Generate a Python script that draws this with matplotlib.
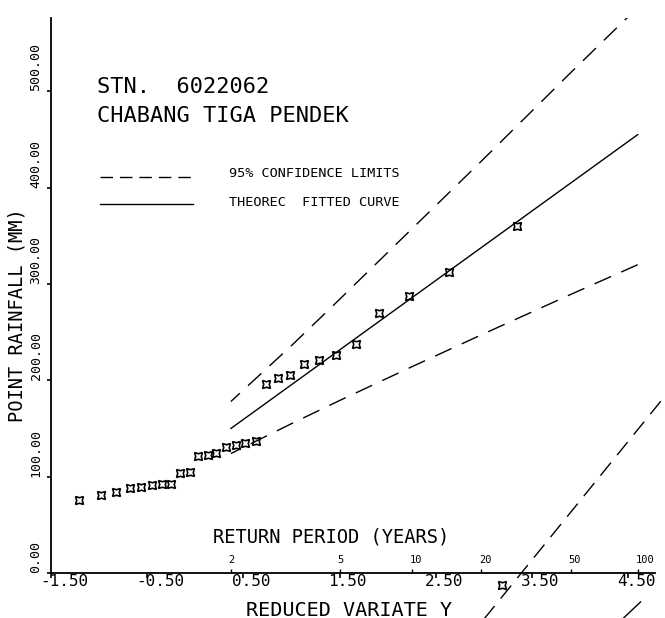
import matplotlib
matplotlib.use('Agg')
import matplotlib.pyplot as plt
from matplotlib.transforms import ScaledTranslation

plt.rcParams['font.family'] = 'DejaVu Sans Mono'

# annual maxima, ranked, against Gumbel reduced variate
reduced_y = [-1.21, -0.98, -0.82, -0.68, -0.56, -0.45, -0.35, -0.25, -0.16, -0.06,
             0.03, 0.13, 0.22, 0.32, 0.42, 0.52, 0.63, 0.74, 0.86, 0.99,
             1.13, 1.29, 1.46, 1.67, 1.91, 2.22, 2.64, 3.35]
rainfall = [76, 81, 84, 88, 89, 91, 92, 92, 104, 105,
            121, 122, 125, 131, 133, 135, 137, 196, 202, 205,
            217, 221, 226, 238, 270, 287, 312, 360]

# fitted curve and 95% limits
fit_y = [0.37, 4.60]
fit_p = [150, 455]
limit_y = [0.37, 1.00, 1.50, 2.25, 2.97, 3.90, 4.60]
upper_p = [178, 236, 284, 357, 427, 519, 587]
lower_p = [124, 155, 179, 214, 247, 289, 320]

# pen strokes running off below the axis
stray_y = [3.00, 4.87]
stray_p = [-48, 182]
stray2_y = [4.45, 4.63]
stray2_p = [-47, -30]
stray_pt_y = [3.19]
stray_pt_p = [-12]

x_ticks = [-1.5, -0.5, 0.5, 1.5, 2.5, 3.5, 4.5]
y_ticks = [0, 100, 200, 300, 400, 500]
period_labels = ['2', '5', '10', '20', '50', '100']
period_y = [0.367, 1.500, 2.250, 2.970, 3.902, 4.600]

fig = plt.figure(figsize=(6.65, 6.18), dpi=100)
ax = fig.add_axes([0.0767, 0.0728, 0.9083, 0.898])
ax.set_xlim(-1.5, 4.78)
ax.set_ylim(0, 576)
for s in ['top', 'right']:
    ax.spines[s].set_visible(False)
for s in ['left', 'bottom']:
    ax.spines[s].set_linewidth(1.3)

# limits drawn from the far end so the dash pattern starts there
dash = (13, 8)
ax.plot(limit_y[::-1], upper_p[::-1], color='black', lw=1.0, dashes=dash)
ax.plot(limit_y[::-1], lower_p[::-1], color='black', lw=1.0, dashes=dash)
ax.plot(fit_y, fit_p, color='black', lw=1.0)
ax.plot(reduced_y, rainfall, ls='none', marker=(4, 1, 45), ms=8,
        mfc='none', mec='black', mew=1.2)

ax.plot(stray_y, stray_p, color='black', lw=1.0, dashes=(12, 7), clip_on=False)
ax.plot(stray2_y, stray2_p, color='black', lw=1.0, clip_on=False)
ax.plot(stray_pt_y, stray_pt_p, ls='none', marker=(4, 1, 45), ms=8,
        mfc='none', mec='black', mew=1.2, clip_on=False)

# axis ticks
ax.set_yticks(y_ticks, ['%.2f' % v for v in y_ticks], rotation=90,
              va='bottom', ha='center', fontsize=9.5)
ax.tick_params(axis='y', direction='out', length=3, width=1.2, pad=7.8)
ax.set_xticks(x_ticks, ['%.2f' % v for v in x_ticks], ha='left', fontsize=11.5)
ax.tick_params(axis='x', direction='out', length=3.6, width=1.2, pad=-3)
shift = ScaledTranslation(-11 / 100, 0, fig.dpi_scale_trans)
for lab in ax.get_xticklabels():
    lab.set_transform(lab.get_transform() + shift)

# return period scale on the same line
sec = ax.secondary_xaxis('bottom')
sec.spines['bottom'].set_visible(False)
sec.set_xticks(period_y, period_labels, ha='left', fontsize=7.5)
sec.tick_params(direction='in', length=3, width=1.0, pad=-13)
shift2 = ScaledTranslation(-2 / 100, 0, fig.dpi_scale_trans)
for lab in sec.get_xticklabels():
    lab.set_transform(lab.get_transform() + shift2)

ax.text(0.463, 0.065, 'RETURN PERIOD (YEARS)', transform=ax.transAxes,
        ha='center', va='center', fontsize=13.5)
fig.text(349 / 665, 1 - 610 / 618, 'REDUCED VARIATE Y', ha='center', va='center',
         fontsize=14.5)
fig.text(17 / 665, 1 - 315 / 618, 'POINT RAINFALL (MM)', rotation=90,
         ha='center', va='center', fontsize=13.5)

# station title
ax.text(0.076, 0.875, 'STN.  6022062', transform=ax.transAxes,
        ha='left', va='center', fontsize=15.8)
ax.text(0.076, 0.823, 'CHABANG TIGA PENDEK', transform=ax.transAxes,
        ha='left', va='center', fontsize=15.8)

# key
ax.plot([0.081, 0.235], [0.713, 0.713], transform=ax.transAxes, color='black',
        lw=1.0, dashes=(9, 5))
ax.plot([0.081, 0.235], [0.665, 0.665], transform=ax.transAxes, color='black',
        lw=1.0)
ax.text(0.295, 0.720, '95% CONFIDENCE LIMITS', transform=ax.transAxes,
        ha='left', va='center', fontsize=9.7)
ax.text(0.295, 0.668, 'THEOREC  FITTED CURVE', transform=ax.transAxes,
        ha='left', va='center', fontsize=9.7)

fig.savefig('out.png', dpi=100)
